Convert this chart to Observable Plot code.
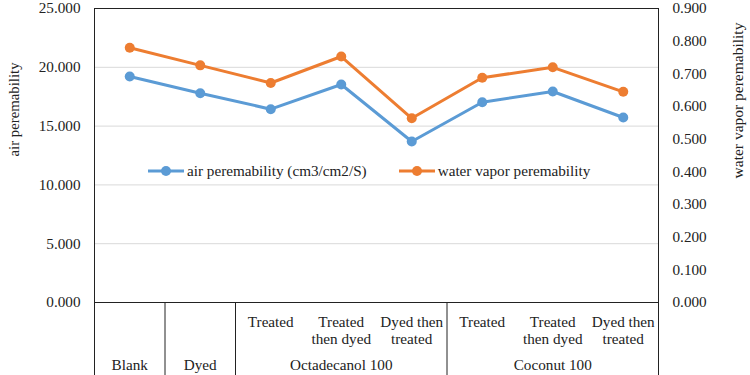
<!DOCTYPE html>
<html>
<head>
<meta charset="utf-8">
<script src="https://cdn.jsdelivr.net/npm/d3@7"></script>
<script src="https://cdn.jsdelivr.net/npm/@observablehq/plot@0.6"></script>
<style>
  body { margin: 0; background: #fff; }
  #wrap { position: relative; width: 750px; height: 375px; font-family: "Liberation Serif", "Times New Roman", serif; color: #222; }
  #legend { position: absolute; top: 162px; left: 148px; display: flex; align-items: center; font-size: 15.2px; white-space: nowrap; }
  #legend .item { display: flex; align-items: center; }
  #legend svg { display: block; margin-right: 3px; }
</style>
</head>
<body>
<div id="wrap"></div>
<script>
// ---- data ----
const subLabels = ["", "", "Treated", "Treated\nthen dyed", "Dyed then\ntreated", "Treated", "Treated\nthen dyed", "Dyed then\ntreated"];
const groupLabels = ["Blank", "Dyed", "Octadecanol 100", "Coconut 100"];
const groupStart = [0, 1, 2, 5];
const groupEnd = [0, 1, 4, 7];
const airPerm = [19.22, 17.80, 16.44, 18.54, 13.69, 17.03, 17.94, 15.73];
const waterVapor = [0.780, 0.726, 0.672, 0.753, 0.564, 0.688, 0.720, 0.645];
const leftTicks = [0, 5, 10, 15, 20, 25];
const rightTicks = [0, 0.1, 0.2, 0.3, 0.4, 0.5, 0.6, 0.7, 0.8, 0.9];
const seriesNames = ["air peremability (cm3/cm2/S)", "water vapor peremability"];
const seriesColors = ["#5b9bd5", "#ed7d31"];
const leftMax = 25, rightMax = 0.9;

// ---- derived tables ----
const toLeft = v => v * leftMax / rightMax;
const rows = subLabels.map((s, i) => ({i, sub: s, air: airPerm[i], water: toLeft(waterVapor[i])}));
const groups = groupLabels.map((g, k) => ({label: g, center: (groupStart[k] + groupEnd[k]) / 2, start: groupStart[k] - 0.5, end: groupEnd[k] + 0.5}));
const boundaries = groups.slice(1).map(g => g.start);
const edges = [groups[0].start, groups[groups.length - 1].end];

const chart = Plot.plot({
  width: 750,
  height: 375,
  marginLeft: 94,
  marginRight: 92,
  marginTop: 8,
  marginBottom: 73,
  style: {fontFamily: "'Liberation Serif', 'Times New Roman', serif", fontSize: "15.2px", color: "#222", background: "#fff"},
  x: {type: "linear", domain: [-0.5, 7.5], axis: null},
  y: {domain: [0, leftMax]},
  marks: [
    Plot.ruleY(leftTicks.filter(t => t > 0 && t < leftMax), {stroke: "#d9d9d9", strokeWidth: 1}),
    Plot.axisY(leftTicks, {anchor: "left", tickSize: 0, tickPadding: 14, tickFormat: d => d.toFixed(3), label: null}),
    Plot.axisY(rightTicks.map(toLeft), {anchor: "right", tickSize: 0, tickPadding: 14, tickFormat: d => (d * rightMax / leftMax).toFixed(3), label: null}),
    Plot.ruleY([0, leftMax], {stroke: "#222", strokeWidth: 1}),
    Plot.ruleX(edges, {stroke: "#222", strokeWidth: 1, insetBottom: -73}),
    Plot.ruleX(boundaries, {y1: () => 0, y2: () => 0, stroke: "#222", strokeWidth: 1, insetBottom: -73}),
    Plot.line(rows, {x: "i", y: "air", stroke: seriesColors[0], strokeWidth: 3}),
    Plot.dot(rows, {x: "i", y: "air", fill: seriesColors[0], r: 5}),
    Plot.line(rows, {x: "i", y: "water", stroke: seriesColors[1], strokeWidth: 3}),
    Plot.dot(rows, {x: "i", y: "water", fill: seriesColors[1], r: 5}),
    Plot.text(rows, {x: "i", y: () => 0, text: "sub", dy: 13, lineAnchor: "top", lineHeight: 1.08, fill: "#222"}),
    Plot.text(groups, {x: "center", y: () => 0, text: "label", dy: 63, lineAnchor: "middle", fill: "#222"}),
    Plot.text(["air peremability"], {frameAnchor: "left", textAnchor: "middle", lineAnchor: "middle", rotate: -90, dx: -80, dy: -46, fill: "#222", fontSize: 14.8}),
    Plot.text(["water vapor peremability"], {frameAnchor: "right", textAnchor: "middle", lineAnchor: "middle", rotate: -90, dx: 80, dy: -55, fill: "#222", fontSize: 15.5})
  ]
});

const wrap = document.getElementById("wrap");
wrap.appendChild(chart);

const legend = document.createElement("div");
legend.id = "legend";
seriesNames.forEach((name, k) => {
  const item = document.createElement("div");
  item.className = "item";
  if (k > 0) item.style.marginLeft = "32px";
  item.innerHTML = `<svg width="36" height="12"><line x1="0" y1="6" x2="36" y2="6" stroke="${seriesColors[k]}" stroke-width="3"/><circle cx="18" cy="6" r="5" fill="${seriesColors[k]}"/></svg><span>${name}</span>`;
  legend.appendChild(item);
});
wrap.appendChild(legend);
</script>
</body>
</html>
